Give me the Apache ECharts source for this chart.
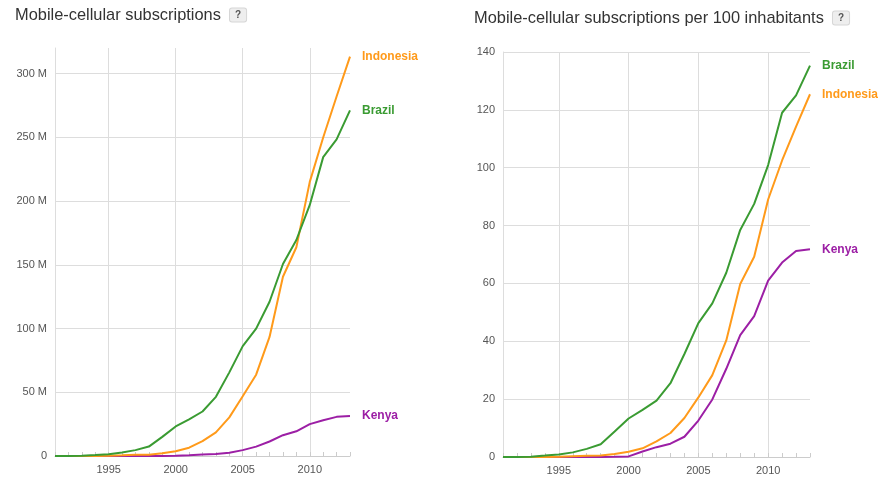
<!DOCTYPE html>
<html>
<head>
<meta charset="utf-8">
<script src="https://cdn.jsdelivr.net/npm/echarts@6/dist/echarts.min.js"></script>
<style>
  html, body { margin: 0; padding: 0; background: #fff; }
  #chart { width: 879px; height: 480px; }
</style>
</head>
<body>
<div id="chart"></div>
<script>
// 年份
const years = ['1991', '1992', '1993', '1994', '1995', '1996', '1997', '1998', '1999', '2000', '2001', '2002',
  '2003', '2004', '2005', '2006', '2007', '2008', '2009', '2010', '2011', '2012', '2013']

// subscriptions, millions
const brazilSubs = [0.01, 0.03, 0.19, 0.76, 1.4, 2.7, 4.6, 7.4, 15.0, 23.2, 28.7, 34.9,
  46.4, 65.6, 86.2, 99.9, 121.0, 150.6, 169.4, 196.9, 234.4, 248.3, 271.1]
const indonesiaSubs = [0.02, 0.04, 0.05, 0.08, 0.21, 0.56, 0.92, 1.07, 2.2, 3.7, 6.5, 11.7,
  18.5, 30.3, 46.9, 63.8, 93.4, 140.6, 163.7, 215.0, 249.8, 282.0, 313.2]
const kenyaSubs = [0, 0, 0, 0, 0, 0, 0.01, 0.01, 0.02, 0.13, 0.6, 1.19,
  1.59, 2.55, 4.61, 7.34, 11.35, 16.3, 19.4, 25.0, 28.1, 30.7, 31.3]

// per 100 inhabitants
const brazilPer100 = [0, 0.02, 0.12, 0.48, 0.85, 1.6, 2.8, 4.4, 8.8, 13.3, 16.3, 19.5,
  25.5, 35.6, 46.3, 53.1, 63.7, 78.5, 87.5, 100.9, 119.0, 125.0, 135.3]
const indonesiaPer100 = [0.01, 0.02, 0.03, 0.04, 0.11, 0.28, 0.46, 0.53, 1.07, 1.8, 3.0, 5.4,
  8.3, 13.5, 20.6, 28.3, 40.3, 59.8, 69.2, 89.0, 102.5, 114.2, 125.4]
const kenyaPer100 = [0, 0, 0, 0, 0, 0, 0.03, 0.04, 0.08, 0.2, 1.9, 3.4,
  4.6, 7.0, 12.6, 19.9, 30.5, 42.1, 48.7, 61.0, 67.2, 71.2, 71.8]

const colors = { Brazil: '#3a9b32', Indonesia: '#ff9a1a', Kenya: '#9c1fa5' }

const font = '"Liberation Sans", Arial, sans-serif'

function xAxis(gridIndex) {
  return {
    type: 'category',
    gridIndex,
    data: years,
    boundaryGap: false,
    axisLine: { lineStyle: { color: '#cccccc' } },
    axisTick: { inside: true, length: 4, interval: 0, lineStyle: { color: '#cccccc' } },
    axisLabel: {
      interval: (i, v) => Number(v) % 5 === 0,
      color: '#555',
      fontSize: 11,
      fontFamily: font,
      margin: 8
    },
    splitLine: {
      show: true,
      interval: (i, v) => Number(v) % 5 === 0,
      lineStyle: { color: '#dddddd', width: 1 }
    }
  }
}

function yAxis(gridIndex, max, interval, fmt) {
  return {
    type: 'value',
    gridIndex,
    min: 0,
    max,
    interval,
    axisLine: { show: true, lineStyle: { color: '#dddddd' } },
    axisTick: { show: false },
    axisLabel: {
      color: '#555',
      fontSize: 11,
      fontFamily: font,
      margin: 8,
      showMaxLabel: max % interval === 0,
      formatter: fmt
    },
    splitLine: {
      lineStyle: { color: '#dddddd', width: 1 },
      showMaxLine: max % interval === 0
    }
  }
}

function line(name, data, idx) {
  return {
    name,
    type: 'line',
    xAxisIndex: idx,
    yAxisIndex: idx,
    data,
    symbol: 'none',
    smooth: false,
    lineStyle: { color: colors[name], width: 2 },
    itemStyle: { color: colors[name] },
    endLabel: {
      show: true,
      distance: 12,
      formatter: '{a}',
      color: colors[name],
      fontWeight: 'bold',
      fontSize: 12,
      fontFamily: font
    },
    animation: false
  }
}

const titleRich = {
  q: {
    backgroundColor: '#eeeeee',
    borderColor: '#d6d6d6',
    borderWidth: 1,
    borderRadius: 2,
    padding: [2, 5, 1, 5],
    fontSize: 10,
    fontWeight: 'bold',
    color: '#555',
    fontFamily: font
  }
}

const option = {
  animation: false,
  title: [
    {
      text: 'Mobile-cellular subscriptions  {q|?}',
      left: 10,
      top: 2,
      textStyle: { fontSize: 16.4, fontWeight: 'normal', color: '#333', fontFamily: font, rich: titleRich }
    },
    {
      text: 'Mobile-cellular subscriptions per 100 inhabitants  {q|?}',
      left: 469,
      top: 5,
      textStyle: { fontSize: 16.4, fontWeight: 'normal', color: '#333', fontFamily: font, rich: titleRich }
    }
  ],
  grid: [
    { left: 55, right: 529, top: 48, bottom: 24 },
    { left: 503, right: 69, top: 52, bottom: 23 }
  ],
  xAxis: [xAxis(0), xAxis(1)],
  yAxis: [
    yAxis(0, 320, 50, v => (v === 0 ? '0' : v + ' M')),
    yAxis(1, 140, 20, v => String(v))
  ],
  series: [
    line('Kenya', kenyaSubs, 0),
    line('Indonesia', indonesiaSubs, 0),
    line('Brazil', brazilSubs, 0),
    line('Kenya', kenyaPer100, 1),
    line('Indonesia', indonesiaPer100, 1),
    line('Brazil', brazilPer100, 1)
  ]
}

const chart = echarts.init(document.getElementById('chart'))
chart.setOption(option)
</script>
</body>
</html>
